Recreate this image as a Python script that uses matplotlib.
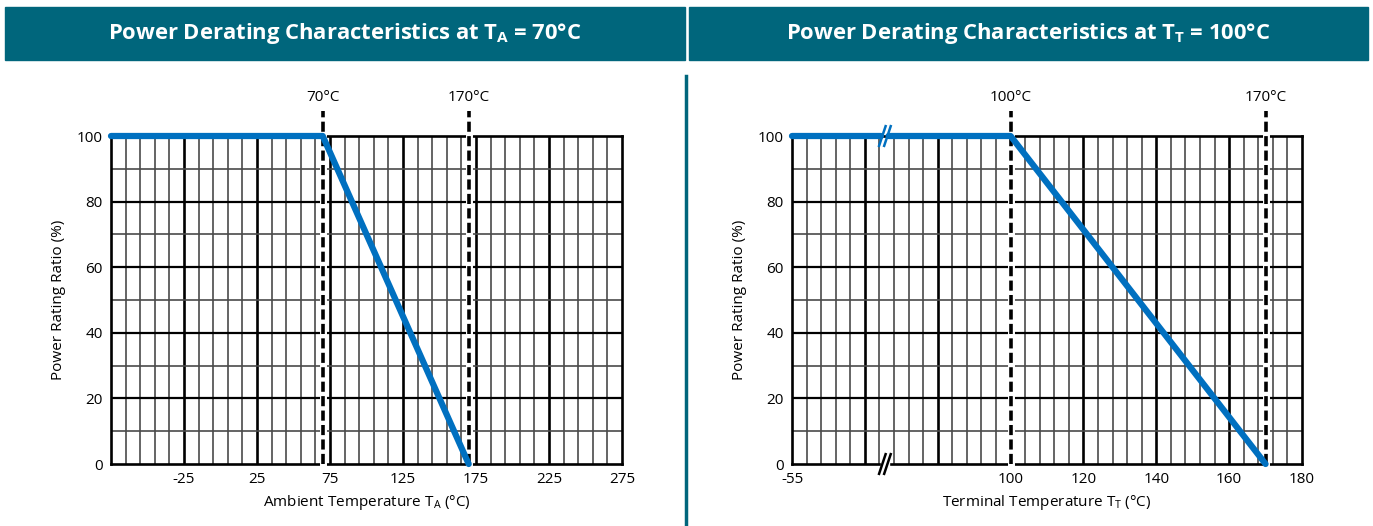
import numpy as np
import matplotlib.pyplot as plt
from matplotlib.patches import Rectangle
from matplotlib.lines import Line2D

plt.rcParams['font.family'] = ['Open Sans', 'DejaVu Sans']
plt.rcParams['mathtext.fontset'] = 'custom'
plt.rcParams['mathtext.rm'] = 'Open Sans'

teal = '#00667C'
blue = '#0070C0'

# left chart: ambient temperature
amb_x = [-75, 70, 170]
amb_y = [100, 100, 0]
amb_marks = [70, 170]
amb_ticks = [-25, 25, 75, 125, 175, 225, 275]

# right chart: terminal temperature (axis broken, 40 stands for -55)
term_x = [40, 100, 170]
term_y = [100, 100, 0]
term_marks = [100, 170]
term_ticks = [40, 100, 120, 140, 160, 180]
term_labels = ['-55', '100', '120', '140', '160', '180']
term_break = 65.5

y_ticks = [0, 20, 40, 60, 80, 100]

W, H = 1373, 526
fig = plt.figure(figsize=(W / 100, H / 100), dpi=100)


def px(x0, y0, x1, y1):
    return [x0 / W, 1 - y1 / H, (x1 - x0) / W, (y1 - y0) / H]


def setup(ax, xlim, major, minor):
    ax.set_xlim(*xlim)
    ax.set_ylim(0, 100)
    for v in minor:
        ax.axvline(v, color='#4a4a4a', lw=1.2, zorder=1)
    for v in major:
        ax.axvline(v, color='black', lw=1.9, zorder=1)
    for v in range(10, 100, 20):
        ax.axhline(v, color='#4a4a4a', lw=1.2, zorder=1)
    for v in range(20, 100, 20):
        ax.axhline(v, color='black', lw=1.6, zorder=1)
    for s in ax.spines.values():
        s.set_linewidth(1.9)
    ax.set_yticks(y_ticks)
    ax.tick_params(length=0, labelsize=11, pad=6)
    ax.set_ylabel('Power Rating Ratio (%)', fontsize=11, labelpad=8)


def marks(ax, vals):
    for v in vals:
        ax.plot([v, v], [0, 107.5], color='white', lw=5, clip_on=False, zorder=3)
        ax.plot([v, v], [0, 107.5], color='black', lw=2.6, ls=(0, (2.8, 1.2)),
                clip_on=False, zorder=4)
        ax.text(v, 109.5, '%d°C' % v, ha='center', va='bottom', fontsize=11)


# left
ax1 = fig.add_axes(px(111, 136, 622, 464))
setup(ax1, (-75, 275), np.arange(-25, 275, 50), [v for v in np.arange(-65, 275, 10) if (v + 25) % 50])
ax1.set_xticks(amb_ticks)
ax1.set_xticklabels([str(t) for t in amb_ticks])
marks(ax1, amb_marks)
ax1.plot(amb_x, amb_y, color=blue, lw=4.5, solid_capstyle='round', clip_on=False, zorder=5)
ax1.set_xlabel('Ambient Temperature T$_\\mathregular{A}$ (°C)', fontsize=11, labelpad=4)

# right
ax2 = fig.add_axes(px(792, 136, 1302, 464))
setup(ax2, (40, 180), np.arange(60, 180, 20), [v for v in np.arange(44, 180, 4) if (v - 40) % 20])
ax2.set_xticks(term_ticks)
ax2.set_xticklabels(term_labels)
marks(ax2, term_marks)
gap = 1.0
ax2.plot([term_x[0], term_break - gap], [term_y[0]] * 2, color=blue, lw=4.5,
         solid_capstyle='round', clip_on=False, zorder=5)
ax2.plot([term_break + gap] + term_x[1:], [term_y[0]] + term_y[1:], color=blue, lw=4.5,
         solid_capstyle='round', clip_on=False, zorder=5)
ax2.add_patch(Rectangle((term_break - gap, -1.5), 2 * gap, 3, color='white', clip_on=False, zorder=5))
for col, yb in [(blue, 100), ('black', 0)]:
    for d in (-0.7, 0.7):
        ax2.plot([term_break + d - 0.9, term_break + d + 0.9], [yb - 3, yb + 3], color=col,
                 lw=1.8, clip_on=False, zorder=6)
ax2.set_xlabel('Terminal Temperature T$_\\mathregular{T}$ (°C)', fontsize=11, labelpad=4)

# title bars
titles = ['Power Derating Characteristics at T$_\\mathregular{A}$ = 70°C',
          'Power Derating Characteristics at T$_\\mathregular{T}$ = 100°C']
for (x0, x1), t in zip([(5, 685), (689, 1368)], titles):
    fig.patches.append(Rectangle((x0 / W, 1 - 60 / H), (x1 - x0) / W, 53 / H,
                                 transform=fig.transFigure, color=teal))
    fig.text((x0 + x1) / 2 / W, 1 - 34 / H, t, color='white', fontsize=15.8,
             fontweight='bold', ha='center', va='center')

fig.lines.append(Line2D([686 / W, 686 / W], [0, 1 - 76 / H], transform=fig.transFigure,
                        color=teal, lw=2.5))

fig.savefig('out.png', dpi=100)
